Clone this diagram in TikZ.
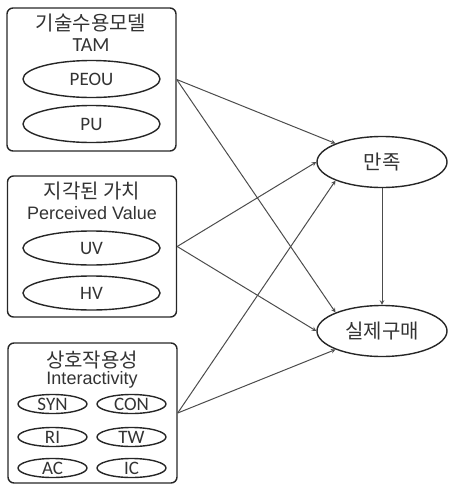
\documentclass[tikz,border=0pt]{standalone}
\usepackage{fontspec}
\setmainfont{Liberation Sans}
\newfontfamily\krfont{Noto Sans CJK KR}
\newfontfamily\calfont{Carlito}
\usetikzlibrary{shapes.geometric, arrows, positioning}

\begin{document}
\begin{tikzpicture}[x=1pt, y=-1pt,
  group/.style={rectangle, draw=black!85, line width=1.4pt, rounded corners=6pt, inner sep=0pt, minimum width=169pt},
  factor/.style={ellipse, draw=black!85, line width=1.4pt, inner sep=0pt, minimum width=137pt, minimum height=37pt, text=black!80, font=\fontsize{19}{21}\selectfont\calfont},
  subfactor/.style={factor, minimum width=69pt, minimum height=19pt},
  outcome/.style={ellipse, draw=black!85, line width=1.4pt, inner sep=0pt, minimum width=130pt, minimum height=51pt, text=black!80, font=\fontsize{20}{22}\selectfont\krfont},
  heading/.style={font=\fontsize{20}{22}\selectfont\krfont, inner sep=0pt, text=black!80},
  subheading/.style={font=\fontsize{18}{20}\selectfont, inner sep=0pt, text=black!80},
  arrow/.style={->, >=stealth, line width=1pt, black!70}
]
\useasboundingbox (0,0) rectangle (450,485);

%% Groups
\node[group, minimum height=143pt] (tam) at (91.5, 79.5) {};
\node[group, minimum height=141pt] (pv) at (92, 246.5) {};
\node[group, minimum height=140pt] (inter) at (92.5, 413) {};

%% Headings
\node[heading] (tamkr) at (91, 23) {기술수용모델};
\node[subheading, font=\fontsize{20}{22}\selectfont\calfont] (tamen) at (91, 45) {TAM};
\node[heading] (pvkr) at (92, 191) {지각된 가치};
\node[subheading] (pven) at (92, 213) {Perceived Value};
\node[heading] (interkr) at (92, 360) {상호작용성};
\node[subheading] (interen) at (92, 380) {Interactivity};

%% Factors
\node[factor] (peou) at (91.5, 79) {PEOU};
\node[factor] (pu) at (91.5, 124) {PU};
\node[factor, minimum height=34pt] (uv) at (91.5, 248) {UV};
\node[factor, minimum height=34pt] (hv) at (91.5, 293) {HV};
\node[subfactor] (syn) at (52.5, 404) {SYN};
\node[subfactor] (con) at (131.5, 404) {CON};
\node[subfactor] (ri) at (52.5, 437) {RI};
\node[subfactor] (tw) at (131.5, 437) {TW};
\node[subfactor] (ac) at (52.5, 468) {AC};
\node[subfactor] (ic) at (131.5, 468) {IC};

%% Outcomes
\node[outcome] (sat) at (382, 162) {만족};
\node[outcome] (buy) at (382, 331) {실제구매};

%% Arrows
\draw[arrow] (tam.east) -- (sat.north west);
\draw[arrow] (tam.east) -- (buy.north west);
\draw[arrow] (pv.east) -- (sat.west);
\draw[arrow] (pv.east) -- (buy.west);
\draw[arrow] (inter.east) -- (sat.south west);
\draw[arrow] (inter.east) -- (buy.south west);
\draw[arrow] (sat) -- (buy);

\end{tikzpicture}
\end{document}
